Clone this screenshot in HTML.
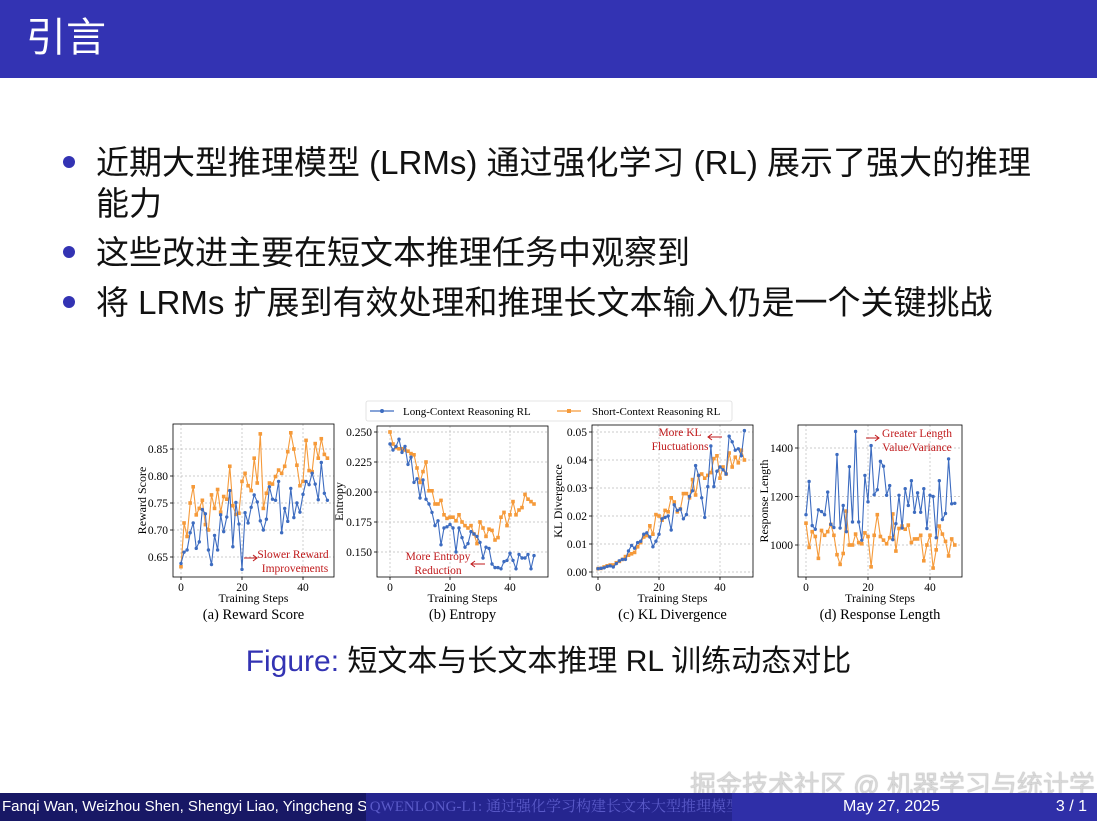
<!DOCTYPE html>
<html><head><meta charset="utf-8"><style>
*{margin:0;padding:0}
body{width:1097px;height:821px;position:relative;background:#fff;overflow:hidden;font-family:"Liberation Sans","Noto Sans CJK SC",sans-serif}
.title{position:absolute;left:0;top:0;width:1097px;height:78px;background:#3333b3}
.title span{position:absolute;left:26px;top:14px;color:#fff;font-size:40px;line-height:48px;font-family:"Liberation Sans","Noto Sans CJK SC",sans-serif}
.t{position:absolute;font-size:33px;line-height:38px;color:#111;white-space:nowrap}
.dot{position:absolute;width:12px;height:12px;border-radius:50%;background:#3333b3}
.cap{position:absolute;left:0;width:1097px;top:644px;text-align:center;font-size:30px;line-height:36px;color:#111}
.foot{position:absolute;top:793px;height:28px;color:#fff;font-size:16px;line-height:28px;white-space:nowrap;overflow:hidden}
.wm{position:absolute;left:690px;top:765px;font-size:26px;color:#d8d8d8;white-space:nowrap;font-family:"Liberation Sans","Noto Sans CJK SC",sans-serif;text-shadow:0 0 1px #888}
</style></head><body>
<div class="title"><span>引言</span></div>
<div class="dot" style="left:63px;top:156px"></div>
<div class="t" style="left:96px;top:144px">近期大型推理模型 (LRMs) 通过强化学习 (RL) 展示了强大的推理</div>
<div class="t" style="left:96px;top:185px">能力</div>
<div class="dot" style="left:63px;top:246px"></div>
<div class="t" style="left:96px;top:234px">这些改进主要在短文本推理任务中观察到</div>
<div class="dot" style="left:63px;top:296px"></div>
<div class="t" style="left:96px;top:284px">将 LRMs 扩展到有效处理和推理长文本输入仍是一个关键挑战</div>

<svg id="fig" width="1097" height="821" style="position:absolute;left:0;top:0" xmlns="http://www.w3.org/2000/svg" font-family="Liberation Serif, serif"></svg>

<div class="cap"><span style="color:#3333b3">Figure:</span> 短文本与长文本推理 RL 训练动态对比</div>
<div class="wm">掘金技术社区 @ 机器学习与统计学</div>
<div class="foot" style="left:0;width:366px;background:#181865;padding-left:2px;font-size:15px">Fanqi Wan, Weizhou Shen, Shengyi Liao, Yingcheng Shi</div>
<div class="foot" style="left:366px;width:366px;background:#25258f;color:#5a5ac8;font-family:'Liberation Serif','Noto Serif CJK SC',serif;font-size:15px">&nbsp;QWENLONG-L1: 通过强化学习构建长文本大型推理模型</div>
<div class="foot" style="left:732px;width:365px;background:#2f2fa8"><span style="position:absolute;left:111px">May 27, 2025</span><span style="position:absolute;right:10px">3 / 1</span></div>

<script>
var svg=document.getElementById('fig'),h='';
var B='#3d6cc0',O='#f59a3a';
function panel(p){
 var s='';
 function X(i){return p.x0+(p.x40-p.x0)*i/40}
 function Y(v){return p.ya+(p.yb-p.ya)*(v-p.yav)/(p.ybv-p.yav)}
 [0,20,40].forEach(function(t){var x=X(t);
  s+='<line x1="'+x+'" y1="'+p.T+'" x2="'+x+'" y2="'+p.Bt+'" stroke="#bbb" stroke-width="0.7" stroke-dasharray="2,2"/>';
  s+='<line x1="'+x+'" y1="'+p.Bt+'" x2="'+x+'" y2="'+(p.Bt+3)+'" stroke="#000" stroke-width="0.8"/>';
  s+='<text x="'+x+'" y="'+(p.Bt+14)+'" font-size="11.5" text-anchor="middle">'+t+'</text>';});
 p.ticks.forEach(function(t){var y=Y(t);
  s+='<line x1="'+p.L+'" y1="'+y+'" x2="'+p.R+'" y2="'+y+'" stroke="#bbb" stroke-width="0.7" stroke-dasharray="2,2"/>';
  s+='<line x1="'+(p.L-3)+'" y1="'+y+'" x2="'+p.L+'" y2="'+y+'" stroke="#000" stroke-width="0.8"/>';
  s+='<text x="'+(p.L-5)+'" y="'+(y+4)+'" font-size="11.5" text-anchor="end">'+p.fmt(t)+'</text>';});
 [[p.orange,O,1],[p.blue,B,0]].forEach(function(a){
  var d='',m='';a[0].forEach(function(v,i){var x=X(i),y=Y(v);d+=(i?'L':'M')+x.toFixed(1)+' '+y.toFixed(1);
   m+=a[2]?'<rect x="'+(x-1.8)+'" y="'+(y-1.8)+'" width="3.6" height="3.6" fill="'+a[1]+'"/>':'<circle cx="'+x+'" cy="'+y+'" r="1.7" fill="'+a[1]+'"/>';});
  s+='<path d="'+d+'" fill="none" stroke="'+a[1]+'" stroke-width="1.1"/>'+m;});
 s+='<rect x="'+p.L+'" y="'+p.T+'" width="'+(p.R-p.L)+'" height="'+(p.Bt-p.T)+'" fill="none" stroke="#000" stroke-width="0.8"/>';
 s+='<text x="'+((p.L+p.R)/2)+'" y="'+(p.Bt+25)+'" font-size="12" text-anchor="middle">Training Steps</text>';
 s+='<text transform="translate('+p.yl+','+((p.T+p.Bt)/2)+') rotate(-90)" font-size="12" text-anchor="middle">'+p.ylabel+'</text>';
 s+='<text x="'+((p.L+p.R)/2)+'" y="619" font-size="14.5" text-anchor="middle">'+p.cap+'</text>';
 return s;}
var f2=function(v){return v.toFixed(2)},f3=function(v){return v.toFixed(3)},f0=function(v){return ''+v};
h+=panel({L:173,R:334,T:424,Bt:577,x0:181,x40:303,ya:449,yav:0.85,yb:557,ybv:0.65,ticks:[0.65,0.70,0.75,0.80,0.85],fmt:f2,yl:146,ylabel:'Reward Score',cap:'(a) Reward Score',
blue:[0.638,0.659,0.663,0.695,0.713,0.666,0.678,0.738,0.730,0.663,0.636,0.690,0.663,0.728,0.697,0.724,0.773,0.669,0.751,0.711,0.627,0.732,0.713,0.742,0.765,0.752,0.717,0.700,0.720,0.780,0.757,0.755,0.790,0.695,0.740,0.716,0.777,0.723,0.750,0.733,0.766,0.790,0.784,0.805,0.785,0.756,0.825,0.768,0.755],
orange:[0.632,0.713,0.688,0.750,0.780,0.728,0.740,0.755,0.710,0.700,0.765,0.740,0.775,0.733,0.762,0.757,0.818,0.745,0.729,0.731,0.790,0.805,0.782,0.773,0.833,0.787,0.878,0.740,0.768,0.787,0.785,0.799,0.811,0.805,0.818,0.845,0.880,0.850,0.820,0.782,0.790,0.866,0.810,0.808,0.860,0.833,0.869,0.840,0.833]});
h+=panel({L:377,R:548,T:426,Bt:577,x0:390,x40:510,ya:432,yav:0.25,yb:552,ybv:0.15,ticks:[0.15,0.175,0.2,0.225,0.25],fmt:f3,yl:343,ylabel:'Entropy',cap:'(b) Entropy',
blue:[0.240,0.235,0.238,0.244,0.233,0.238,0.223,0.229,0.208,0.211,0.195,0.210,0.194,0.190,0.183,0.172,0.176,0.156,0.170,0.171,0.173,0.170,0.150,0.170,0.162,0.154,0.157,0.167,0.165,0.163,0.158,0.145,0.154,0.153,0.140,0.137,0.137,0.136,0.142,0.143,0.149,0.143,0.136,0.148,0.145,0.145,0.148,0.136,0.147],
orange:[0.250,0.240,0.237,0.236,0.236,0.235,0.234,0.232,0.231,0.220,0.208,0.217,0.225,0.201,0.201,0.190,0.190,0.193,0.181,0.178,0.179,0.179,0.176,0.181,0.175,0.172,0.170,0.172,0.165,0.157,0.175,0.170,0.163,0.169,0.168,0.160,0.162,0.179,0.183,0.172,0.181,0.192,0.181,0.185,0.187,0.198,0.194,0.192,0.190]});
h+=panel({L:592,R:753,T:425,Bt:577,x0:598,x40:720,ya:432,yav:0.05,yb:572,ybv:0,ticks:[0,0.01,0.02,0.03,0.04,0.05],fmt:f2,yl:562,ylabel:'KL Divergence',cap:'(c) KL Divergence',
blue:[.0012,.0013,.0015,.002,.0022,.0018,.003,.004,.0045,.0045,.0075,.0095,.0085,.0105,.011,.0135,.014,.0125,.009,.011,.0135,.019,.0195,.02,.015,.024,.022,.0225,.019,.0205,.027,.029,.038,.0345,.0265,.0195,.0305,.045,.0305,.036,.0375,.0365,.035,.0485,.0465,.0435,.044,.0415,.0505],
orange:[.0012,.0013,.0018,.0022,.0025,.0025,.0033,.0038,.0045,.0055,.006,.0065,.007,.009,.0105,.0125,.013,.0165,.0135,.0205,.020,.0185,.022,.0215,.0265,.025,.0215,.0225,.028,.028,.0265,.033,.0275,.0345,.035,.0335,.0345,.0355,.0405,.0415,.0335,.0375,.035,.0425,.0375,.041,.039,.0435,.040]});
h+=panel({L:798,R:962,T:425,Bt:577,x0:806,x40:930,ya:448,yav:1400,yb:545,ybv:1000,ticks:[1000,1200,1400],fmt:f0,yl:768,ylabel:'Response Length',cap:'(d) Response Length',
blue:[1125,1262,1080,1065,1145,1138,1125,1218,1085,1072,1373,1070,1163,1055,1323,1095,1468,1095,1020,1287,1178,1410,1207,1228,1345,1325,1205,1245,1022,1088,1205,1070,1232,1163,1265,1135,1215,1135,1232,1068,1205,1200,1030,1265,1105,1130,1355,1170,1172],
orange:[1090,990,1055,1035,945,1060,1040,1055,1085,1040,960,920,965,1140,1000,1000,1045,1010,1005,1050,1035,910,1040,1125,1035,1020,1005,1030,1128,975,1068,1078,1065,1082,1010,1025,1025,1040,935,1000,1040,905,980,1078,1045,1015,955,1025,1000]});
h+='<rect x="366" y="401" width="366" height="20" fill="#fff" stroke="#ddd" stroke-width="0.8" rx="2"/>';
h+='<line x1="370" y1="411" x2="394" y2="411" stroke="'+B+'" stroke-width="1.2"/><circle cx="382" cy="411" r="2" fill="'+B+'"/>';
h+='<text x="403" y="415" font-size="11">Long-Context Reasoning RL</text>';
h+='<line x1="557" y1="411" x2="581" y2="411" stroke="'+O+'" stroke-width="1.2"/><rect x="567" y="409" width="4" height="4" fill="'+O+'"/>';
h+='<text x="592" y="415" font-size="11">Short-Context Reasoning RL</text>';
var R='#c0191b';
function ann(x,y,t,a){return '<text x="'+x+'" y="'+y+'" font-size="11.5" fill="'+R+'" text-anchor="'+(a||'middle')+'">'+t+'</text>';}
function arr(x1,x2,y){var d=x2>x1?-4:4;return '<path d="M'+x1+' '+y+'H'+x2+'M'+(x2+d)+' '+(y-3)+'L'+x2+' '+y+'L'+(x2+d)+' '+(y+3)+'" stroke="'+R+'" stroke-width="1" fill="none"/>';}
h+=ann(293,558,'Slower Reward')+ann(295,572,'Improvements')+arr(244,257,558);
h+=ann(438,560,'More Entropy')+ann(438,574,'Reduction')+arr(485,471,564);
h+=ann(680,436,'More KL')+ann(680,450,'Fluctuations')+arr(722,708,437);
h+=ann(917,437,'Greater Length')+ann(917,451,'Value/Variance')+arr(866,879,438);
svg.innerHTML=h;
</script>
</body></html>
